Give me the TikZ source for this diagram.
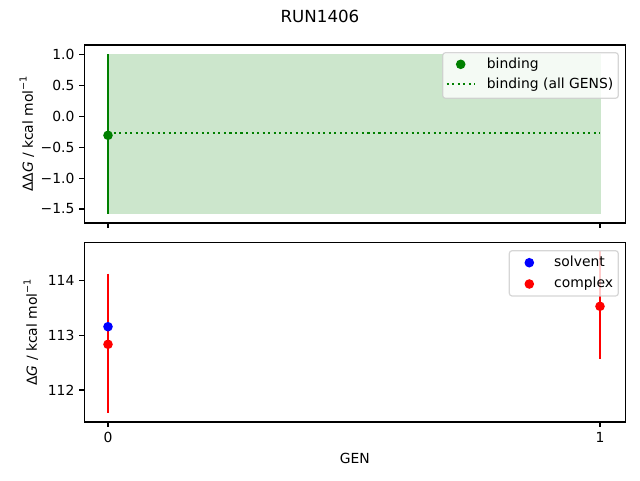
\documentclass[tikz,border=0pt]{standalone}
\usepackage{fontspec}
\setmainfont{DejaVu Sans}
\definecolor{mplgreen}{HTML}{008000}
\definecolor{mplfill}{RGB}{204,230,204}
\definecolor{mplblue}{HTML}{0000FF}
\definecolor{mplred}{HTML}{FF0000}
\begin{document}
\begin{tikzpicture}[x=1pt,y=-1pt,
  spine/.style={line width=1.11pt,black},
  tk/.style={line width=1.11pt,black},
  lbl/.style={font=\fontsize{13.89}{16}\selectfont,inner sep=0pt},
  ttl/.style={font=\fontsize{16.67}{19}\selectfont,inner sep=0pt},
  errbar/.style={line width=2.08pt},
  dotmk/.style={circle,inner sep=0pt,minimum size=9.6pt,draw=none},
  legframe/.style={draw=black!20,line width=1.2pt,fill=white,fill opacity=0.8,draw opacity=0.8,rounded corners=2.8pt},
  dotline/.style={line width=2.08pt,mplgreen,dash pattern=on 2.08pt off 3.44pt}
]
\useasboundingbox[fill=white] (0,0) rectangle (640,480);

% ---------------- title
\node[ttl] (title) at (320,16) {RUN1406};

% ---------------- top axes
\coordinate (tA) at (84.3,45);
\coordinate (tB) at (625.3,223);
\fill[mplfill] (108,54.3) rectangle (600.5,213.7);
\coordinate (ft) at (108,133);
\coordinate (fe) at (600,133);
\draw[dotline] (ft) -- (fe);
\coordinate (g0t) at (108,54.3);
\coordinate (g0b) at (108,214);
\draw[errbar,mplgreen] (g0t) -- (g0b);
\node[dotmk,fill=mplgreen] (gp0) at (108,135.3) {};
\draw[spine] (tA) rectangle (tB);
% y ticks
\foreach \yy/\tl [count=\i] in {54.3/1.0,85.2/0.5,116.2/0.0,147.1/−0.5,178.1/−1.0,209.0/−1.5}{
  \draw[tk] (84.3,\yy) -- (79.4,\yy);
  \node[lbl,anchor=east] (ty\i) at (74.6,\yy) {\tl};
}
% x ticks (no labels)
\draw[tk] (108,223) -- (108,227.9);
\draw[tk] (600,223) -- (600,227.9);
\node[lbl,rotate=90,anchor=base] (tylab) at (32.9,134) {ΔΔ{\itshape G} / kcal mol\raisebox{0.45em}{\fontsize{9.7}{10}\selectfont −1}};
% legend
\draw[legframe] (442.7,52.7) rectangle (618.3,98.3);
\node[dotmk,fill=mplgreen] (lg1) at (460.7,64.3) {};
\node[lbl,anchor=base west] (lt1) at (486.7,68.5) {binding};
\coordinate (ld1) at (446.7,84.3);
\coordinate (ld2) at (475,84.3);
\draw[dotline] (ld1) -- (ld2);
\node[lbl,anchor=base west] (lt2) at (486.7,88.4) {binding (all GENS)};

% ---------------- bottom axes
\coordinate (bA) at (84.3,242.7);
\coordinate (bB) at (625.3,422);
\coordinate (r0t) at (108,273.7);
\coordinate (r0b) at (108,413.3);
\draw[errbar,mplred] (r0t) -- (r0b);
\coordinate (r1t) at (600,251);
\coordinate (r1b) at (600,359.3);
\draw[errbar,mplred] (r1t) -- (r1b);
\node[dotmk,fill=mplblue] (bp0) at (108,326.7) {};
\node[dotmk,fill=mplred] (rp0) at (108,344.3) {};
\node[dotmk,fill=mplred] (rp1) at (600,306.3) {};
\draw[spine] (bA) rectangle (bB);
\foreach \yy/\tl [count=\i] in {280.7/114,335.3/113,390.0/112}{
  \draw[tk] (84.3,\yy) -- (79.4,\yy);
  \node[lbl,anchor=east] (by\i) at (74.6,\yy) {\tl};
}
\draw[tk] (108,422) -- (108,426.9);
\draw[tk] (600,422) -- (600,426.9);
\node[lbl,anchor=north] (bx0) at (108,431.7) {0};
\node[lbl,anchor=north] (bx1) at (600,431.7) {1};
\node[lbl,anchor=north] (xlab) at (354.8,452.7) {GEN};
\node[lbl,rotate=90,anchor=base] (bylab) at (36.9,332.4) {Δ{\itshape G} / kcal mol\raisebox{0.45em}{\fontsize{9.7}{10}\selectfont −1}};
% legend
\draw[legframe] (509.3,250.7) rectangle (618.3,296);
\node[dotmk,fill=mplblue] (lb1) at (529.3,262.7) {};
\node[lbl,anchor=base west] (lb1t) at (554,266.7) {solvent};
\node[dotmk,fill=mplred] (lb2) at (529.3,284) {};
\node[lbl,anchor=base west] (lb2t) at (554,287.3) {complex};
\end{tikzpicture}
\end{document}
